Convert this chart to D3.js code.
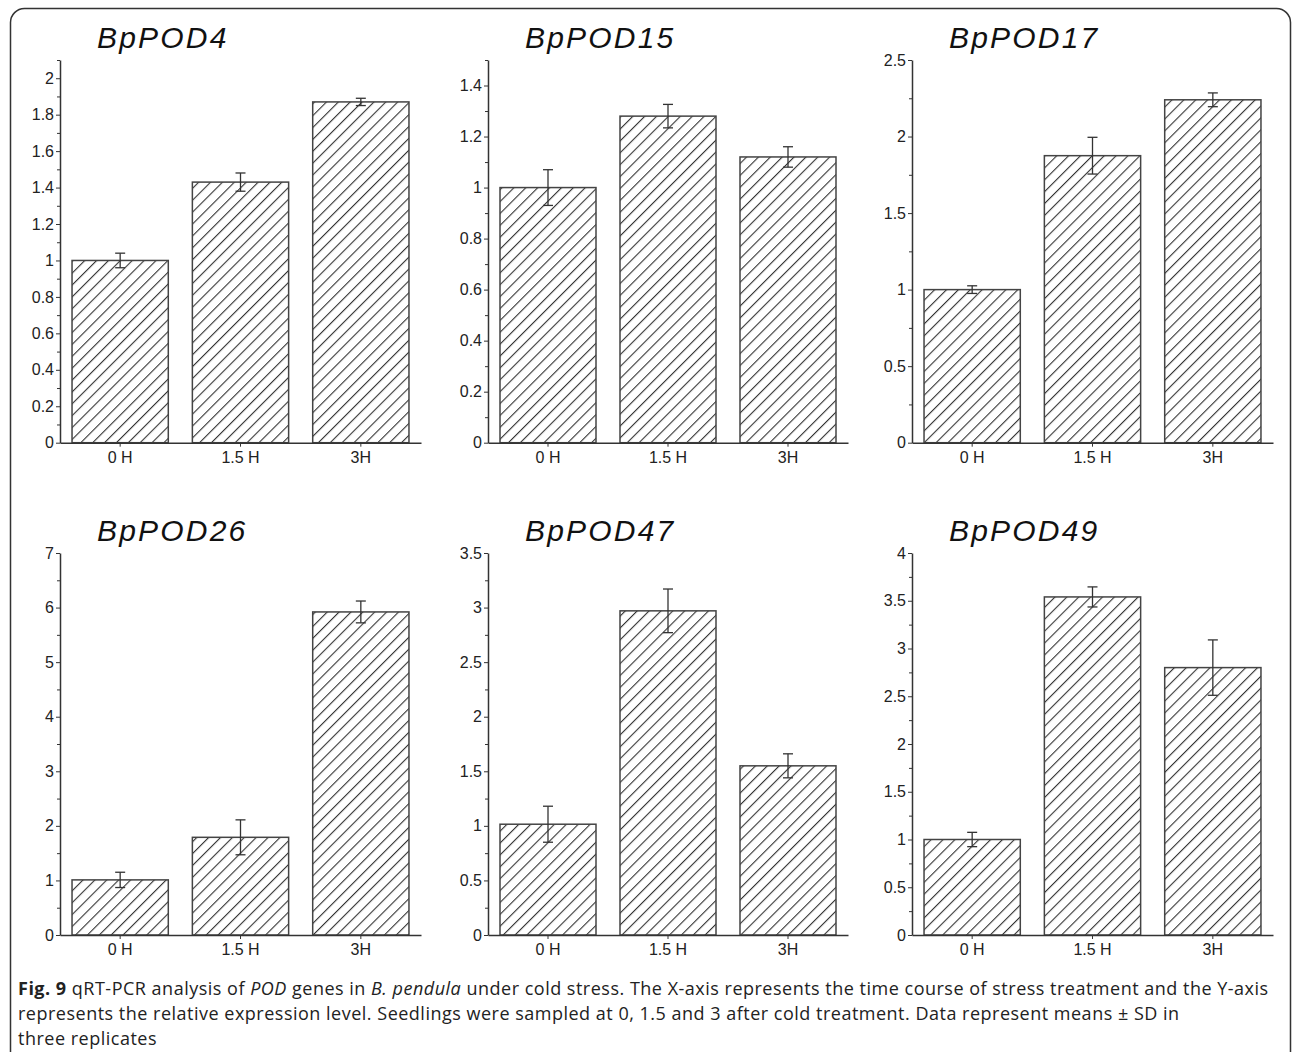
<!DOCTYPE html>
<html>
<head>
<meta charset="utf-8">
<script src="https://cdn.jsdelivr.net/npm/d3@7"></script>
<style>
  body { margin: 0; background: #fff; }
  svg { display: block; }
  .tick text { font-family: "Liberation Sans", Arial, sans-serif; font-size: 16px; fill: #222; }
  .domain, .tick line { stroke: #333; }
</style>
</head>
<body>
<svg id="fig" width="1293" height="1052"></svg>
<script>
// data
const genes = ["BpPOD4", "BpPOD15", "BpPOD17", "BpPOD26", "BpPOD47", "BpPOD49"];
const timepoints = ["0 H", "1.5 H", "3H"];

const pod4 = [1.0, 1.43, 1.87];
const pod15 = [1.0, 1.28, 1.12];
const pod17 = [1.0, 1.875, 2.24];
const pod26 = [1.01, 1.79, 5.92];
const pod47 = [1.015, 2.97, 1.55];
const pod49 = [1.0, 3.54, 2.80];

const sd4 = [0.04, 0.05, 0.02];
const sd15 = [0.07, 0.046, 0.04];
const sd17 = [0.025, 0.12, 0.045];
const sd26 = [0.14, 0.32, 0.2];
const sd47 = [0.165, 0.2, 0.11];
const sd49 = [0.075, 0.105, 0.29];

const yMax = [2.1, 1.5, 2.5, 7, 3.5, 4];
const yStep = [0.2, 0.2, 0.5, 1, 0.5, 0.5];

const means = [pod4, pod15, pod17, pod26, pod47, pod49];
const sds = [sd4, sd15, sd17, sd26, sd47, sd49];

const svg = d3.select("#fig");

// frame round the figure, open at the bottom
svg.append("rect")
   .attr("x", 10.5).attr("y", 8.5)
   .attr("width", 1280).attr("height", 1100)
   .attr("rx", 14)
   .attr("fill", "none")
   .attr("stroke", "#333")
   .attr("stroke-width", 1.5);

// hatch fill
const hs = 8.4;
const pat = svg.append("defs").append("pattern")
   .attr("id", "hatch")
   .attr("patternUnits", "userSpaceOnUse")
   .attr("width", hs).attr("height", hs)
   .attr("patternTransform", "rotate(45)");
pat.append("rect").attr("width", hs).attr("height", hs).attr("fill", "#fff");
pat.append("line")
   .attr("x1", 0).attr("y1", 0).attr("x2", 0).attr("y2", hs)
   .attr("stroke", "#333").attr("stroke-width", 2.2);

const cols = [{x0: 60, x1: 421}, {x0: 488, x1: 848}, {x0: 912, x1: 1273}];
const rows = [{top: 60, base: 442.7}, {top: 553, base: 935}];

const fmt = d => String(+d.toFixed(2));

genes.forEach((gene, i) => {
    const col = cols[i % 3];
    const row = rows[Math.floor(i / 3)];
    const g = svg.append("g");

    const x = d3.scaleBand()
        .domain(timepoints)
        .range([col.x0, col.x1])
        .paddingInner(0.2)
        .paddingOuter(0.1);
    const y = d3.scaleLinear()
        .domain([0, yMax[i]])
        .range([row.base, row.top]);

    const rows_ = timepoints.map((t, j) => ({t: t, v: means[i][j], e: sds[i][j]}));

    // bars
    g.selectAll("rect.bar")
     .data(rows_)
     .join("rect")
     .attr("class", "bar")
     .attr("x", d => x(d.t))
     .attr("y", d => y(d.v))
     .attr("width", x.bandwidth())
     .attr("height", d => y(0) - y(d.v))
     .attr("fill", "url(#hatch)")
     .attr("stroke", "#444")
     .attr("stroke-width", 1.5);

    // error bars
    const eb = g.selectAll("g.err").data(rows_).join("g").attr("class", "err")
        .attr("stroke", "#333").attr("stroke-width", 1.3);
    eb.append("line")
      .attr("x1", d => x(d.t) + x.bandwidth() / 2)
      .attr("x2", d => x(d.t) + x.bandwidth() / 2)
      .attr("y1", d => y(d.v - d.e))
      .attr("y2", d => y(d.v + d.e));
    [-1, 1].forEach(s => {
        eb.append("line")
          .attr("x1", d => x(d.t) + x.bandwidth() / 2 - 5)
          .attr("x2", d => x(d.t) + x.bandwidth() / 2 + 5)
          .attr("y1", d => y(d.v + s * d.e))
          .attr("y2", d => y(d.v + s * d.e));
    });

    // y axis with minor ticks
    const majors = d3.range(0, yMax[i] + 1e-9, yStep[i]);
    const minors = d3.range(yStep[i] / 2, yMax[i] + 1e-9, yStep[i]);
    g.append("g")
     .attr("transform", `translate(${col.x0},0)`)
     .call(d3.axisLeft(y).tickValues(minors).tickSize(3).tickSizeOuter(0).tickFormat(""))
     .call(a => a.select(".domain").remove());
    g.append("g")
     .attr("transform", `translate(${col.x0},0)`)
     .call(d3.axisLeft(y).tickValues(majors).tickSize(4).tickSizeOuter(0).tickPadding(2).tickFormat(fmt))
     .call(a => a.select(".domain").attr("stroke-width", 1.5));

    // x axis
    g.append("g")
     .attr("transform", `translate(0,${row.base})`)
     .call(d3.axisBottom(x).tickSize(4).tickSizeOuter(0).tickPadding(5))
     .call(a => a.select(".domain").attr("stroke-width", 1.5));

    // title
    g.append("text")
     .attr("x", col.x0 + 37)
     .attr("y", row.top - 12)
     .attr("font-family", "'Liberation Sans', Arial, sans-serif")
     .attr("font-style", "italic")
     .attr("font-size", 30)
     .attr("letter-spacing", 2.2)
     .attr("fill", "#111")
     .text(gene);
});

// caption
const cap = svg.append("text")
   .attr("font-family", "'Open Sans', sans-serif")
   .attr("font-size", 18)
   .attr("letter-spacing", 0.5)
   .attr("fill", "#222");
const l1 = cap.append("tspan").attr("x", 18).attr("y", 995);
l1.append("tspan").attr("font-weight", "bold").text("Fig. 9");
l1.append("tspan").text(" qRT-PCR analysis of ");
l1.append("tspan").attr("font-style", "italic").text("POD");
l1.append("tspan").text(" genes in ");
l1.append("tspan").attr("font-style", "italic").text("B. pendula");
l1.append("tspan").text(" under cold stress. The X-axis represents the time course of stress treatment and the Y-axis");
cap.append("tspan").attr("x", 18).attr("y", 1020)
   .text("represents the relative expression level. Seedlings were sampled at 0, 1.5 and 3 after cold treatment. Data represent means \u00b1 SD in");
cap.append("tspan").attr("x", 18).attr("y", 1045).text("three replicates");
</script>
</body>
</html>
